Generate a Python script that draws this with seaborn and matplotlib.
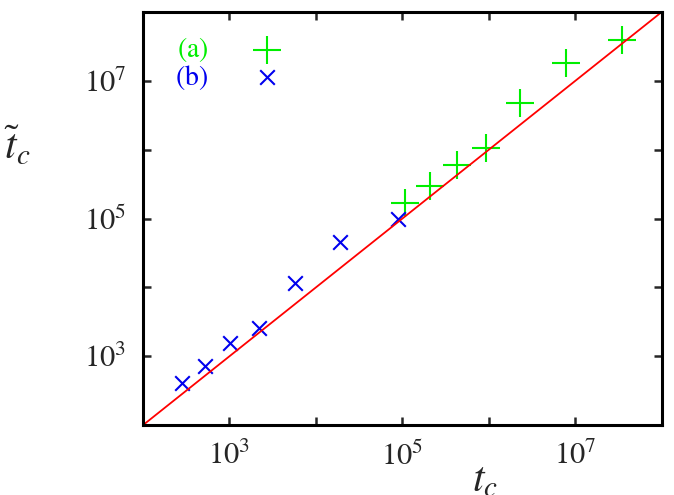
import pandas as pd
import matplotlib.pyplot as plt
import seaborn as sns
import numpy as np

sns.set_theme(style="white")
plt.rcParams['font.family'] = ['Liberation Serif', 'DejaVu Serif']
plt.rcParams['mathtext.fontset'] = 'stix'

# series (a): green plus markers
tc_a = [1.07e5, 2.1e5, 4.3e5, 9.3e5, 2.3e6, 7.8e6, 3.5e7]
tct_a = [1.7e5, 3.0e5, 5.9e5, 1.07e6, 4.7e6, 1.8e7, 3.9e7]
# series (b): blue cross markers
tc_b = [2.8e2, 5.2e2, 1.02e3, 2.2e3, 5.8e3, 1.9e4, 9.0e4]
tct_b = [4.1e2, 7.2e2, 1.55e3, 2.6e3, 1.15e4, 4.5e4, 9.8e4]
# reference line y = x
line_x = [1e2, 1e8]

df_a = pd.DataFrame({'tc': tc_a, 'tct': tct_a})
df_b = pd.DataFrame({'tc': tc_b, 'tct': tct_b})
df_line = pd.DataFrame({'x': line_x, 'y': line_x})

fig = plt.figure(figsize=(6.74, 4.95), dpi=100)
ax = fig.add_axes([0.212, 0.141, 0.770, 0.835])

sns.lineplot(data=df_line, x='x', y='y', color='#ff0000', linewidth=1.3, ax=ax)
sns.scatterplot(data=df_a, x='tc', y='tct', marker='+', s=380, color='#00ee00',
                linewidth=1.5, label=r'$\mathrm{(a)}$', ax=ax)
sns.scatterplot(data=df_b, x='tc', y='tct', marker='x', s=110, color='#0000ee',
                linewidth=1.5, label=r'$\mathrm{(b)}$', ax=ax)

ax.set_xscale('log')
ax.set_yscale('log')
ax.set_xlim(1e2, 1e8)
ax.set_ylim(1e2, 1e8)

ticks = [10.0 ** k for k in range(2, 9)]
labels = ['$10^{%d}$' % k if k in (3, 5, 7) else '' for k in range(2, 9)]
ax.set_xticks(ticks)
ax.set_xticklabels(labels)
ax.set_yticks(ticks)
ax.set_yticklabels(labels)
ax.minorticks_off()
ax.tick_params(axis='both', which='major', direction='in', length=6, width=1.8,
               bottom=True, left=True, top=True, right=True,
               labelsize=22, pad=12)

for sp in ax.spines.values():
    sp.set_linewidth(2.2)
    sp.set_color('black')

ax.set_xlabel('$t_c$', fontsize=30)
ax.xaxis.set_label_coords(0.66, -0.135)
ax.xaxis.label.set_va('center')
ax.set_ylabel(r'$\tilde{t}_c$', fontsize=30, rotation=0, va='center', ha='center')
ax.yaxis.set_label_coords(-0.241, 0.673)

leg = ax.legend(loc='upper left', frameon=False, markerfirst=False, fontsize=20,
                handletextpad=1.1, handlelength=2.0, labelspacing=-0.05,
                borderaxespad=0.0, labelcolor='markeredgecolor',
                bbox_to_anchor=(0.041, 0.971))

plt.savefig('out.png', dpi=100)
